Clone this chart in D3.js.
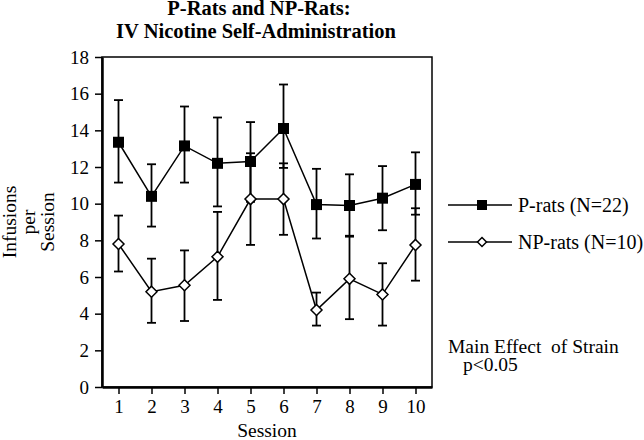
<!DOCTYPE html>
<html><head><meta charset="utf-8">
<script src="https://cdn.jsdelivr.net/npm/d3@7"></script>
<style>
body{margin:0;background:#fff;}
svg text{font-family:"Liberation Serif","Tinos","Times New Roman",Times,"DejaVu Serif",serif !important;fill:#000;}
</style></head>
<body><svg id="c" width="644" height="440"></svg>
<script>
const sessions = [1,2,3,4,5,6,7,8,9,10];
const yTicks = [0,2,4,6,8,10,12,14,16,18];
const pMean  = [13.35,10.4,13.15,12.2,12.3,14.1,9.95,9.9,10.3,11.05];
const pUpper = [15.65,12.15,15.3,14.7,14.45,16.5,11.9,11.6,12.05,12.8];
const pLower = [11.15,8.75,11.15,9.85,10.1,11.95,8.1,8.2,8.55,9.4];
const npMean  = [7.8,5.2,5.55,7.1,10.25,10.25,4.2,5.9,5.05,7.75];
const npUpper = [9.35,7.0,7.45,9.55,12.75,12.2,5.15,8.25,6.75,9.75];
const npLower = [6.3,3.5,3.6,4.75,7.75,8.3,3.35,3.7,3.35,5.8];
const titleLines = ["P-Rats and NP-Rats:","IV Nicotine Self-Administration"];
const seriesNames = ["P-rats (N=22)","NP-rats (N=10)"];

const FF = "'Liberation Serif','Tinos','Times New Roman',Times,'DejaVu Serif',serif";
const svg = d3.select("#c");
const x = d3.scaleLinear().domain([0.5,10.5]).range([102,432]);
const y = d3.scaleLinear().domain([0,18]).range([387,57]);

svg.append("rect").attr("x",x(0.5)).attr("y",y(18)).attr("width",x(10.5)-x(0.5)).attr("height",y(0)-y(18))
  .attr("fill","none").attr("stroke","#000").attr("stroke-width",1.5);

const ya = svg.append("g").attr("transform",`translate(${x(0.5)},0)`)
  .call(d3.axisLeft(y).tickValues(yTicks).tickSize(7).tickSizeOuter(0).tickPadding(6));
const xa = svg.append("g").attr("transform",`translate(0,${y(0)})`)
  .call(d3.axisBottom(x).tickValues(sessions).tickSize(7).tickSizeOuter(0).tickPadding(6));
[ya,xa].forEach(g=>{
  g.attr("font-family",FF).attr("font-size",19);
  g.selectAll("text").attr("fill","#000");
  g.selectAll("line").attr("stroke","#000").attr("stroke-width",1.5);
  g.select(".domain").attr("stroke","#000").attr("stroke-width",2.5);
});

function errBars(up, lo){
  const g = svg.append("g").attr("stroke","#000").attr("stroke-width",1.8);
  sessions.forEach((s,i)=>{
    g.append("line").attr("x1",x(s)).attr("x2",x(s)).attr("y1",y(up[i])).attr("y2",y(lo[i]));
    g.append("line").attr("x1",x(s)-4.5).attr("x2",x(s)+4.5).attr("y1",y(up[i])).attr("y2",y(up[i]));
    g.append("line").attr("x1",x(s)-4.5).attr("x2",x(s)+4.5).attr("y1",y(lo[i])).attr("y2",y(lo[i]));
  });
}
errBars(pUpper,pLower);
errBars(npUpper,npLower);

const line = d3.line().x((d,i)=>x(sessions[i])).y(d=>y(d));
svg.append("path").datum(pMean).attr("d",line).attr("fill","none").attr("stroke","#000").attr("stroke-width",1.5);
svg.append("path").datum(npMean).attr("d",line).attr("fill","none").attr("stroke","#000").attr("stroke-width",1.5);

const sq = d3.symbol().type(d3.symbolSquare).size(121);
const dm = (r)=>`M0,${-r}L${r},0L0,${r}L${-r},0Z`;
svg.append("g").selectAll("path").data(pMean).join("path")
  .attr("d",sq).attr("transform",(d,i)=>`translate(${x(sessions[i])},${y(d)})`).attr("fill","#000");
svg.append("g").selectAll("path").data(npMean).join("path")
  .attr("d",dm(5.5)).attr("transform",(d,i)=>`translate(${x(sessions[i])},${y(d)})`)
  .attr("fill","#fff").attr("stroke","#000").attr("stroke-width",1.5);

function txt(xp,yp,t,size,anchor,bold){
  return svg.append("text").attr("x",xp).attr("y",yp).attr("text-anchor",anchor||"start")
    .attr("font-family",FF).attr("font-size",size).attr("font-weight",bold?"bold":"normal").text(t);
}
txt(259,15,titleLines[0],20.5,"middle",true);
txt(256,38,titleLines[1],20.5,"middle",true);
txt(267,437,"Session",19.5,"middle");
["Infusions","per","Session"].forEach((t,i)=>{
  svg.append("text").attr("transform",`translate(${16+i*19},222) rotate(-90)`).attr("text-anchor","middle")
    .attr("font-family",FF).attr("font-size",19.5).text(t);
});

const lg = svg.append("g");
[[205,0],[242,1]].forEach(([ly,k])=>{
  lg.append("line").attr("x1",448).attr("x2",512).attr("y1",ly).attr("y2",ly).attr("stroke","#000").attr("stroke-width",1.5);
  if(k===0) lg.append("path").attr("d",d3.symbol().type(d3.symbolSquare).size(100)).attr("transform",`translate(482,${ly})`).attr("fill","#000");
  else lg.append("path").attr("d",dm(4.5)).attr("transform",`translate(482,${ly})`).attr("fill","#fff").attr("stroke","#000").attr("stroke-width",1.5);
  txt(518,ly+7,seriesNames[k],20);
});

txt(448,353,"Main Effect\u00A0 of Strain",19.5);
txt(463,371,"p<0.05",19.5);
</script></body></html>
